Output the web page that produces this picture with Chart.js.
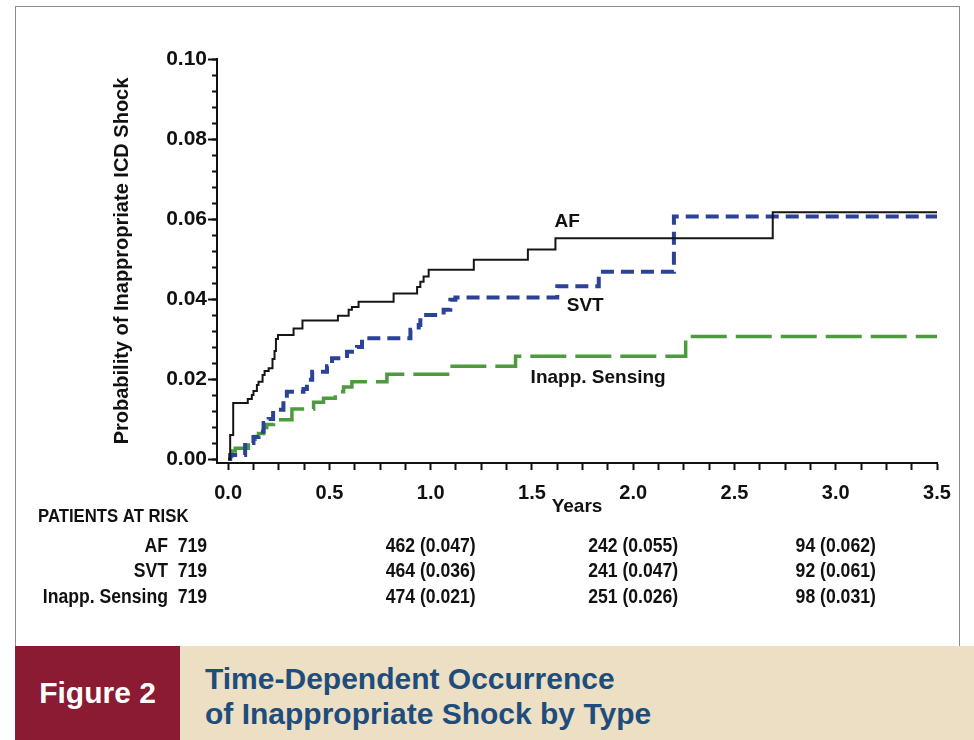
<!DOCTYPE html>
<html>
<head>
<meta charset="utf-8">
<script src="https://cdn.jsdelivr.net/npm/chart.js@4.4.0/dist/chart.umd.min.js"></script>
<style>
  html, body { margin: 0; padding: 0; background: #fff; }
  body { width: 974px; height: 740px; position: relative; overflow: hidden; font-family: 'Liberation Sans', Arial, sans-serif; }
  #frame { position: absolute; left: 15px; top: 6px; width: 945px; height: 650px; border: 1px solid #8c8c8c; box-sizing: border-box; }
  #c { position: absolute; left: 0; top: 0; }
  #bar { position: absolute; left: 15px; top: 646px; width: 959px; height: 94px; background: #ecdfc4; }
  #fig { position: absolute; left: 0; top: 0; width: 165px; height: 94px; background: #8b1a33; color: #fff;
         font-weight: bold; font-size: 30px; line-height: 94px; text-align: center; }
  #cap { position: absolute; left: 190px; top: 15px; color: #1e4d7b; font-weight: bold; font-size: 30px; line-height: 35px; }
</style>
</head>
<body>
<div id="frame"></div>
<canvas id="c" width="974" height="646"></canvas>
<div id="bar">
  <div id="fig">Figure 2</div>
  <div id="cap">Time-Dependent Occurrence<br>of Inappropriate Shock by Type</div>
</div>
<script>
// Kaplan-Meier style step curves (years, probability)
const afTimes = [0, 0.01, 0.025, 0.097, 0.117, 0.125, 0.142, 0.15, 0.17, 0.18, 0.2, 0.219, 0.229, 0.236, 0.246, 0.323, 0.367, 0.542, 0.595, 0.611, 0.644, 0.817, 0.933, 0.949, 0.965, 0.99, 1.213, 1.48, 1.616, 2.689, 3.5];
const afProb  = [0, 0.006, 0.014, 0.015, 0.016, 0.017, 0.0185, 0.0193, 0.021, 0.022, 0.0227, 0.025, 0.027, 0.030, 0.031, 0.0326, 0.0346, 0.0358, 0.0373, 0.038, 0.0393, 0.0414, 0.043, 0.0443, 0.0456, 0.0473, 0.0498, 0.0524, 0.0552, 0.0617, 0.0617];

const svtTimes = [0, 0.01, 0.084, 0.125, 0.15, 0.175, 0.2, 0.222, 0.273, 0.29, 0.372, 0.389, 0.415, 0.488, 0.513, 0.587, 0.636, 0.661, 0.9, 0.941, 0.949, 1.064, 1.097, 1.122, 1.625, 1.83, 2.201, 3.5];
const svtProb  = [0, 0.001, 0.004, 0.0055, 0.0068, 0.009, 0.010, 0.0123, 0.0148, 0.0168, 0.0175, 0.0198, 0.0218, 0.0232, 0.0252, 0.0268, 0.028, 0.0302, 0.0323, 0.0335, 0.036, 0.0373, 0.0398, 0.0404, 0.0432, 0.0468, 0.0606, 0.0606];

const sensTimes = [0, 0.01, 0.018, 0.035, 0.1, 0.133, 0.15, 0.175, 0.191, 0.224, 0.315, 0.422, 0.471, 0.529, 0.57, 0.611, 0.784, 1.106, 1.419, 2.259, 3.5];
const sensProb  = [0, 0.0006, 0.002, 0.0027, 0.0043, 0.0056, 0.0064, 0.0079, 0.0086, 0.0098, 0.0125, 0.0142, 0.0152, 0.0168, 0.018, 0.0193, 0.0212, 0.0232, 0.0257, 0.0306, 0.0306];

// axis ticks
const xMajorTicks = [0, 0.5, 1.0, 1.5, 2.0, 2.5, 3.0, 3.5];
const yMajorTicks = [0, 0.02, 0.04, 0.06, 0.08, 0.10];

// curve labels: text, year, probability
const curveLabels = ['AF', 'SVT', 'Inapp. Sensing'];
const curveLabelX = [1.674, 1.763, 1.827];
const curveLabelY = [0.0593, 0.0383, 0.0203];

// patients at risk table
const riskGroups = ['AF', 'SVT', 'Inapp. Sensing'];
const riskTimes = [0, 1, 2, 3];
const riskAF   = ['719', '462 (0.047)', '242 (0.055)', '94 (0.062)'];
const riskSVT  = ['719', '464 (0.036)', '241 (0.047)', '92 (0.061)'];
const riskSens = ['719', '474 (0.021)', '251 (0.026)', '98 (0.031)'];

const FONT = "'Liberation Sans', Arial, sans-serif";

function toPoints(xs, ys) {
  return xs.map((x, i) => ({ x: x, y: ys[i] }));
}

// fill in minor ticks between the major ones
function withMinor(major, parts) {
  const out = [];
  for (let i = 0; i < major.length; i++) {
    out.push({ value: major[i], major: true });
    if (i < major.length - 1) {
      const step = (major[i + 1] - major[i]) / parts;
      for (let k = 1; k < parts; k++) out.push({ value: +(major[i] + k * step).toFixed(6) });
    }
  }
  return out;
}

const isMajor = (v, list) => list.some(m => Math.abs(m - v) < 1e-9);

const extras = {
  id: 'extras',
  afterDraw(chart) {
    const ctx = chart.ctx;
    const xs = chart.scales.x, ys = chart.scales.y;
    ctx.save();
    ctx.fillStyle = '#111';
    ctx.textBaseline = 'middle';

    // longer marks for the major y ticks
    ctx.strokeStyle = '#111';
    ctx.lineWidth = 2;
    yMajorTicks.forEach(v => {
      const py = Math.round(ys.getPixelForValue(v)) + 0.5;
      ctx.beginPath();
      ctx.moveTo(xs.left - 9, py);
      ctx.lineTo(xs.left, py);
      ctx.stroke();
    });

    // labels next to the curves
    ctx.font = 'bold 19px ' + FONT;
    ctx.textAlign = 'center';
    curveLabels.forEach((t, i) => {
      ctx.fillText(t, xs.getPixelForValue(curveLabelX[i]), ys.getPixelForValue(curveLabelY[i]));
    });

    // narrow bold text for the risk table
    const narrow = (text, x, y, align, size) => {
      ctx.save();
      ctx.font = 'bold ' + size + 'px ' + FONT;
      ctx.textAlign = align;
      ctx.translate(x, y);
      ctx.scale(0.88, 1);
      ctx.fillText(text, 0, 0);
      ctx.restore();
    };

    narrow('PATIENTS AT RISK', 38, 517, 'left', 19);
    const rows = [riskAF, riskSVT, riskSens];
    const rowY = [546, 571, 597];
    rows.forEach((row, r) => {
      narrow(riskGroups[r], 168, rowY[r], 'right', 20);
      row.forEach((txt, c) => {
        const px = xs.getPixelForValue(riskTimes[c]);
        if (c === 0) narrow(txt, px - 21, rowY[r], 'right', 20);
        else narrow(txt, px, rowY[r], 'center', 20);
      });
    });
    ctx.restore();
  }
};

new Chart(document.getElementById('c').getContext('2d'), {
  type: 'line',
  data: {
    datasets: [
      {
        label: 'AF',
        data: toPoints(afTimes, afProb),
        borderColor: '#161616',
        borderWidth: 2,
        stepped: 'before',
        pointRadius: 0
      },
      {
        label: 'SVT',
        data: toPoints(svtTimes, svtProb),
        borderColor: '#2c4296',
        borderWidth: 4,
        borderDash: [13, 7],
        stepped: 'before',
        pointRadius: 0
      },
      {
        label: 'Inapp. Sensing',
        data: toPoints(sensTimes, sensProb),
        borderColor: '#4e9a3e',
        borderWidth: 3.5,
        borderDash: [36, 9],
        stepped: 'before',
        pointRadius: 0
      }
    ]
  },
  options: {
    responsive: false,
    animation: false,
    devicePixelRatio: 1,
    layout: {
      padding: { top: 59, right: 37, bottom: 123, left: 109 }
    },
    plugins: {
      legend: { display: false },
      tooltip: { enabled: false }
    },
    scales: {
      x: {
        type: 'linear',
        min: -0.055,
        max: 3.5,
        afterBuildTicks: (axis) => { axis.ticks = withMinor(xMajorTicks, 4); },
        afterFit: (axis) => { axis.height = 60; },
        border: { display: true, color: '#111', width: 2 },
        grid: { drawOnChartArea: false, drawTicks: true, tickLength: 7, tickWidth: 2, tickColor: '#111' },
        ticks: {
          autoSkip: false,
          maxRotation: 0,
          padding: 11,
          color: '#111',
          font: { family: FONT, size: 20, weight: 'bold' },
          callback: (v) => isMajor(v, xMajorTicks) ? v.toFixed(1) : ''
        },
        title: {
          display: true,
          text: 'Years',
          color: '#111',
          padding: { top: 0, bottom: 5 },
          font: { family: FONT, size: 19, weight: 'bold' }
        }
      },
      y: {
        type: 'linear',
        min: -0.001,
        max: 0.10,
        afterBuildTicks: (axis) => { axis.ticks = withMinor(yMajorTicks, 5); },
        afterFit: (axis) => { axis.width = 108; },
        border: { display: true, color: '#111', width: 2 },
        grid: { drawOnChartArea: false, drawTicks: true, tickLength: 5, tickWidth: 2, tickColor: '#111' },
        ticks: {
          autoSkip: false,
          padding: 5,
          color: '#111',
          font: { family: FONT, size: 21, weight: 'bold' },
          callback: (v) => isMajor(v, yMajorTicks) ? v.toFixed(2) : ''
        },
        title: {
          display: true,
          text: 'Probability of Inappropriate ICD Shock',
          color: '#111',
          padding: { top: 1, bottom: 0 },
          font: { family: FONT, size: 20, weight: 'bold' }
        }
      }
    }
  },
  plugins: [extras]
});
</script>
</body>
</html>
